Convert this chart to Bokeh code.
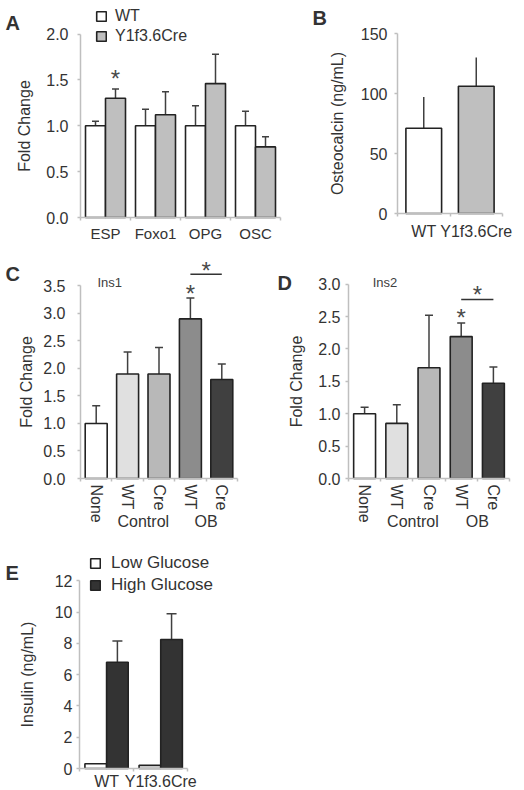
from bokeh.plotting import figure
from bokeh.models import (ColumnDataSource, FixedTicker, LinearAxis, Range1d, Whisker,
                          TeeHead, Label, Legend, LegendItem, NumeralTickFormatter)
from bokeh.layouts import column, row
from bokeh.embed import file_html
from bokeh.resources import INLINE
from bokeh.core.properties import value

# ---------------- data ----------------
a_genes = ["ESP", "Foxo1", "OPG", "OSC"]
a_series = ["WT", "Y1f3.6Cre"]
a_wt = [1.0, 1.0, 1.0, 1.0]
a_wt_err = [0.05, 0.18, 0.22, 0.16]
a_cre = [1.30, 1.12, 1.46, 0.77]
a_cre_err = [0.10, 0.25, 0.32, 0.11]
a_yticks = [0.0, 0.5, 1.0, 1.5, 2.0]

b_groups = ["WT", "Y1f3.6Cre"]
b_values = [71, 106]
b_errors = [26, 24]
b_yticks = [0, 50, 100, 150]

cd_groups = ["", "Control", "Control", "OB", "OB"]
cd_labels = ["None", "WT", "Cre", "WT", "Cre"]
c_values = [1.0, 1.9, 1.9, 2.9, 1.8]
c_errors = [0.32, 0.40, 0.48, 0.38, 0.28]
c_yticks = [0.0, 0.5, 1.0, 1.5, 2.0, 2.5, 3.0, 3.5]

d_values = [1.0, 0.85, 1.71, 2.19, 1.47]
d_errors = [0.10, 0.29, 0.81, 0.21, 0.25]
d_yticks = [0.0, 0.5, 1.0, 1.5, 2.0, 2.5, 3.0]

e_groups = ["WT", "Y1f3.6Cre"]
e_series = ["Low Glucose", "High Glucose"]
e_low = [0.3, 0.2]
e_high = [6.8, 8.25]
e_high_err = [1.35, 1.65]
e_yticks = [0, 2, 4, 6, 8, 10, 12]

# ---------------- style ----------------
FONT = "Liberation Sans"
TEXT = "#333333"
AXIS = "#bfbfbf"
OUTLINE = "#222222"
ERR = "#404040"
STAR = "#4a4a4a"
cd_colors = ["#ffffff", "#e0e0e0", "#b8b8b8", "#8c8c8c", "#404040"]


def make_fig(w, h, axis_px, xscale, bottom_px, yscale):
    # the frame fills the whole figure; both axes are pinned at data 0,
    # axis_px from the left edge and bottom_px from the bottom edge
    p = figure(width=w, height=h,
               x_range=Range1d(-axis_px / xscale, (w - axis_px) / xscale),
               y_range=Range1d(-bottom_px / yscale, (h - bottom_px) / yscale),
               x_axis_type=None, y_axis_type=None, output_backend="svg",
               toolbar_location=None, title=None,
               min_border_left=0, min_border_right=0, min_border_top=0, min_border_bottom=0)
    p.outline_line_color = None
    p.background_fill_color = "white"
    p.border_fill_color = "white"
    return p


def style_axis(ax, size="15px"):
    ax.axis_line_color = AXIS
    ax.axis_line_width = 1.5
    ax.major_tick_line_color = AXIS
    ax.major_tick_line_width = 1.5
    ax.major_tick_out = 3
    ax.major_tick_in = 0
    ax.minor_tick_line_color = None
    ax.major_label_text_font = FONT
    ax.major_label_text_font_size = size
    ax.major_label_text_color = TEXT
    ax.axis_label_text_font = FONT
    ax.axis_label_text_font_style = "normal"
    ax.axis_label_text_color = TEXT


def add_y_axis(p, ticks, fmt, label, standoff, label_standoff, label_size="16px"):
    ax = LinearAxis(ticker=FixedTicker(ticks=ticks), formatter=NumeralTickFormatter(format=fmt),
                    bounds=(ticks[0], ticks[-1]), axis_label=label, fixed_location=0)
    style_axis(ax, "16px")
    ax.major_label_standoff = standoff
    ax.axis_label_standoff = label_standoff
    ax.axis_label_text_font_size = label_size
    p.add_layout(ax, "left")
    return ax


def add_x_axis(p, labels, standoff, size="15px", orientation="horizontal"):
    n = len(labels)
    centers = [i + 0.5 for i in range(n)]
    ax = LinearAxis(ticker=FixedTicker(ticks=centers, minor_ticks=list(range(n + 1))),
                    major_label_overrides={c: l for c, l in zip(centers, labels)},
                    bounds=(0, n), fixed_location=0)
    style_axis(ax, size)
    ax.major_tick_line_color = None
    ax.minor_tick_line_color = AXIS
    ax.minor_tick_line_width = 1.5
    ax.minor_tick_out = 3
    ax.minor_tick_in = 0
    ax.major_label_standoff = standoff
    ax.major_label_orientation = orientation
    p.add_layout(ax, "below")
    return ax


def add_group_axis(p, groups, standoff, size="16px"):
    names, pos = [], []
    for g in dict.fromkeys(groups):
        if not g:
            continue
        idx = [i for i, gg in enumerate(groups) if gg == g]
        names.append(g)
        pos.append(sum(i + 0.5 for i in idx) / len(idx))
    ax = LinearAxis(ticker=FixedTicker(ticks=pos), fixed_location=0,
                    major_label_overrides={x: n for x, n in zip(pos, names)})
    style_axis(ax, size)
    ax.axis_line_color = None
    ax.major_tick_line_color = None
    ax.major_label_standoff = standoff
    p.add_layout(ax, "below")


def bars_with_err(p, xs, vals, errs, width, colors, head=8):
    src = ColumnDataSource(dict(x=xs, top=vals, upper=[v + e for v, e in zip(vals, errs)],
                                color=colors))
    r = p.vbar(x="x", top="top", width=width, source=src, fill_color="color",
               line_color=OUTLINE, line_width=1.6)
    uh = TeeHead(size=head, line_color=ERR, line_width=1.5) if head else None
    p.add_layout(Whisker(source=src, base="x", upper="upper", lower="top", dimension="height",
                         line_color=ERR, line_width=1.5, upper_head=uh, lower_head=None))
    return r


def star(p, x, y_ref, gap_px, scale, size=24):
    # empirical: visible centre of the asterisk relative to its baseline
    y = y_ref + (gap_px - 0.2 * size) / scale
    p.text(x=[x], y=[y], text=["*"], text_font=value(FONT), text_font_size=f"{size}px",
           text_align="center", text_baseline="alphabetic", text_color=STAR)


def letter(p, text, x, y):
    p.add_layout(Label(x=x, y=y, x_units="screen", y_units="screen", text=text,
                       text_font=FONT, text_font_size="20px", text_font_style="bold",
                       text_color=TEXT, text_baseline="alphabetic"))


def legend(p, items, loc, standoff, size):
    lg = Legend(items=items, location=loc, orientation="vertical", glyph_width=12,
                glyph_height=12, label_standoff=standoff, spacing=2, padding=0, margin=0,
                border_line_color=None, background_fill_alpha=0, label_height=16,
                label_text_font=FONT, label_text_font_size=size, label_text_color=TEXT)
    p.add_layout(lg)


# ---------------- panel A ----------------
sA = 91.7
pA = make_fig(290, 250, 80, 50.0, 33, sA)
rA1 = bars_with_err(pA, [i + 0.3 for i in range(4)], a_wt, a_wt_err, 0.4, ["#ffffff"] * 4, 7)
rA2 = bars_with_err(pA, [i + 0.7 for i in range(4)], a_cre, a_cre_err, 0.4, ["#bfbfbf"] * 4, 7)
add_y_axis(pA, a_yticks, "0.0", "Fold Change", 9, 10)
add_x_axis(pA, a_genes, 4)
star(pA, 0.7, a_cre[0] + a_cre_err[0], 15.6, sA)
legend(pA, [LegendItem(label=a_series[0], renderers=[rA1]),
            LegendItem(label=a_series[1], renderers=[rA2])], (95, 205), 8, "16px")
letter(pA, "A", 5, 228)

# ---------------- panel B ----------------
sB = 1.2
pB = make_fig(234, 250, 107, 52.5, 37, sB)
bars_with_err(pB, [i + 0.5 for i in range(2)], b_values, b_errors, 0.68,
              ["#ffffff", "#bfbfbf"], 0)
add_y_axis(pB, b_yticks, "0", "Osteocalcin (ng/mL)", 7, 12)
add_x_axis(pB, b_groups, 6, "16px")
letter(pB, "B", 22, 233)

# ---------------- panel C ----------------
sC = 55.03
pC = make_fig(262, 295, 80, 31.4, 67, sC)
bars_with_err(pC, [i + 0.5 for i in range(5)], c_values, c_errors, 0.7, cd_colors, 8)
add_y_axis(pC, c_yticks, "0.0", "Fold Change", 12, 5)
add_x_axis(pC, cd_labels, 3, "16px", "vertical")
add_group_axis(pC, cd_groups, 31)
c_top_ob = c_values[3] + c_errors[3]
star(pC, 3.5, c_top_ob, 9.5, sC)
c_line = c_top_ob + 23.7 / sC
pC.segment(x0=[3.5], y0=[c_line], x1=[4.5], y1=[c_line], line_color=TEXT, line_width=1.5)
star(pC, 4.0, c_line, 9.0, sC)
pC.text(x=[0.54], y=[3.56], text=["Ins1"], text_font=value(FONT), text_font_size="13px",
        text_baseline="middle", text_align="left", text_color=ERR)
letter(pC, "C", 5, 272)

# ---------------- panel D ----------------
sD = 64.8
pD = make_fig(262, 295, 86, 32.2, 67, sD)
bars_with_err(pD, [i + 0.5 for i in range(5)], d_values, d_errors, 0.68, cd_colors, 8)
add_y_axis(pD, d_yticks, "0.0", "Fold Change", 5, 10)
add_x_axis(pD, cd_labels, 3, "16px", "vertical")
add_group_axis(pD, cd_groups, 31)
d_top_ob = d_values[3] + d_errors[3]
star(pD, 3.5, d_top_ob, 10.0, sD)
d_line = d_top_ob + 23.4 / sD
pD.segment(x0=[3.5], y0=[d_line], x1=[4.5], y1=[d_line], line_color=TEXT, line_width=1.5)
star(pD, 4.0, d_line, 10.0, sD)
pD.text(x=[0.75], y=[3.03], text=["Ins2"], text_font=value(FONT), text_font_size="13px",
        text_baseline="middle", text_align="left", text_color=ERR)
letter(pD, "D", 15, 263)

# ---------------- panel E ----------------
sE = 15.63
pE = make_fig(262, 245, 79, 54.15, 22, sE)
srcEl = ColumnDataSource(dict(x=[i + 0.3 for i in range(2)], top=e_low))
rE1 = pE.vbar(x="x", top="top", width=0.4, source=srcEl, fill_color="#ffffff",
              line_color=OUTLINE, line_width=1.6)
rE2 = bars_with_err(pE, [i + 0.7 for i in range(2)], e_high, e_high_err, 0.4,
                    ["#333333"] * 2, 10)
add_y_axis(pE, e_yticks, "0", "Insulin (ng/mL)", 4, 16)
add_x_axis(pE, e_groups, 1, "16px")
legend(pE, [LegendItem(label=e_series[0], renderers=[rE1]),
            LegendItem(label=e_series[1], renderers=[rE2])], (89, 195), 10, "17px")
letter(pE, "E", 5, 218)

layout = column(row(pA, pB), row(pC, pD), pE)
open("out.html", "w").write(file_html(layout, INLINE))
